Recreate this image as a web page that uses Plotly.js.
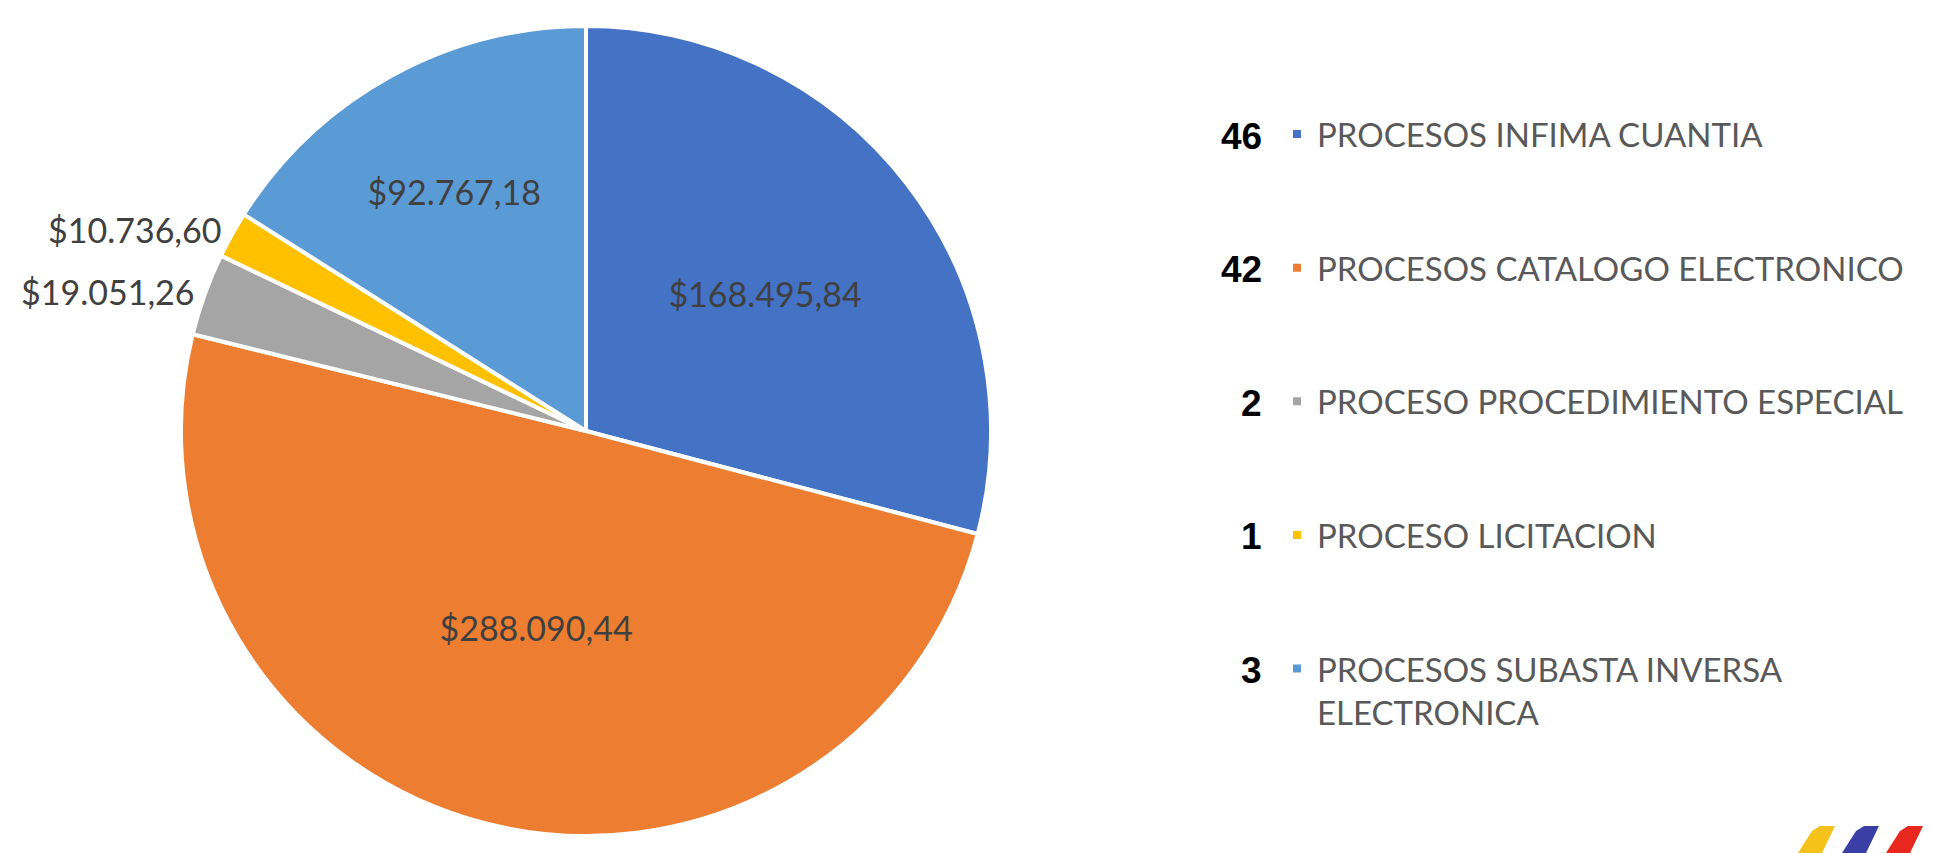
<!DOCTYPE html>
<html>
<head>
<meta charset="utf-8">
<script src="https://cdn.plot.ly/plotly-3.0.1.min.js"></script>
<style>
  html, body { margin: 0; padding: 0; background: #ffffff; }
  #chart { width: 1933px; height: 853px; }
</style>
</head>
<body>
<div id="chart"></div>
<script>
// ---- data ----
const categories = [
  'PROCESOS INFIMA CUANTIA',
  'PROCESOS CATALOGO ELECTRONICO',
  'PROCESO PROCEDIMIENTO ESPECIAL',
  'PROCESO LICITACION',
  'PROCESOS SUBASTA INVERSA ELECTRONICA'
];
const amounts = [168495.84, 288090.44, 19051.26, 10736.60, 92767.18];
const processCounts = [46, 42, 2, 1, 3];

// ---- styles ----
const sliceColors = ['#4472C4', '#ED7D31', '#A5A5A5', '#FFC000', '#5B9BD5'];
const labelPlacement = ['inside', 'inside', 'outside', 'outside', 'inside'];
const W = 1933, H = 853;
const px = x => x / W;
const py = y => 1 - y / H;

// wrap long legend names and pad each entry to three lines for row spacing
function legendText(name) {
  const words = name.split(' ');
  const lines = [];
  let cur = '';
  words.forEach(w => {
    const t = cur ? cur + ' ' + w : w;
    if (t.length > 30 && cur) { lines.push(cur); cur = w; } else { cur = t; }
  });
  lines.push(cur);
  while (lines.length < 3) lines.push('\u00a0');
  return lines.map(l => '<span style="font-size:33px">' + l + '</span>').join('<br>');
}

const legendLabels = categories.map(legendText);

// pie geometry
const cx = 586, cy = 431, R = 405;

const trace = {
  type: 'pie',
  labels: legendLabels,
  values: amounts,
  sort: false,
  direction: 'clockwise',
  rotation: 0,
  marker: { colors: sliceColors, line: { color: '#ffffff', width: 4 } },
  texttemplate: '$%{value:,.2f}',
  textposition: labelPlacement,
  insidetextorientation: 'horizontal',
  textfont: { family: 'Lato, "Open Sans", sans-serif', size: 34, color: '#404040' },
  insidetextfont: { family: 'Lato, "Open Sans", sans-serif', size: 34, color: '#404040' },
  outsidetextfont: { family: 'Lato, "Open Sans", sans-serif', size: 34, color: '#404040' },
  domain: { x: [px(cx - R), px(cx + R)], y: [py(cy + R), py(cy - R)] },
  hoverinfo: 'label+value+percent',
  automargin: false
};

const legendFont = 33.5;
const rowStep = 3 * 1.3 * legendFont + 3;
const firstRow = 136;

const annotations = processCounts.map((c, i) => ({
  xref: 'paper', yref: 'paper',
  x: px(1264), y: py(firstRow + i * rowStep),
  xanchor: 'right', yanchor: 'middle',
  text: '<b>' + c + '</b>',
  showarrow: false,
  font: { family: 'Arial, "Liberation Sans", sans-serif', size: 37, color: '#000000' }
}));

// decorative logo stripes (bottom-right corner)
function stripe(x0, color) {
  const pts = [
    [x0, 853], [x0 + 14, 831], [x0 + 22, 826], [x0 + 37, 826], [x0 + 24, 853]
  ];
  const d = 'M' + pts.map(p => px(p[0]) + ',' + py(p[1])).join(' L') + ' Z';
  return { type: 'path', xref: 'paper', yref: 'paper', path: d,
           fillcolor: color, line: { width: 0 }, layer: 'above' };
}

const layout = {
  width: W, height: H,
  margin: { l: 0, r: 0, t: 0, b: 0, pad: 0 },
  paper_bgcolor: '#ffffff',
  plot_bgcolor: '#ffffff',
  separators: ',.',
  showlegend: true,
  legend: {
    x: px(1277), xanchor: 'left',
    y: py(105.7), yanchor: 'top',
    orientation: 'v',
    valign: 'top',
    bgcolor: 'rgba(0,0,0,0)',
    borderwidth: 0,
    font: { family: 'Lato, "Open Sans", sans-serif', size: legendFont, color: '#595959' },
    itemclick: false, itemdoubleclick: false
  },
  annotations: annotations,
  shapes: [stripe(1798, '#F4C21B'), stripe(1842, '#3A3FA6'), stripe(1886, '#E8281E')]
};

Plotly.newPlot('chart', [trace], layout, { displayModeBar: false, staticPlot: true });
</script>
</body>
</html>
